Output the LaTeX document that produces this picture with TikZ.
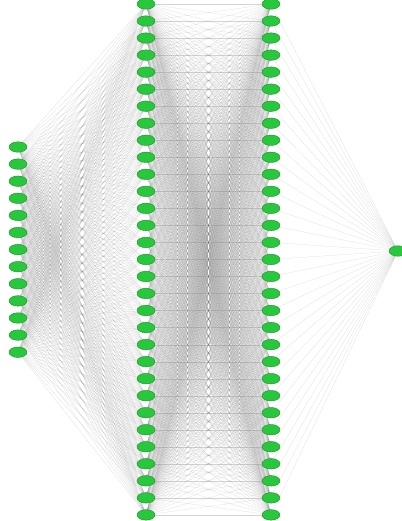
\documentclass[tikz,border=0pt]{standalone}
\usetikzlibrary{backgrounds,shapes.geometric}
\definecolor{nodegreen}{RGB}{40,200,60}
\definecolor{nodeedge}{RGB}{30,140,45}
\begin{document}
\begin{tikzpicture}[x=1pt,y=-1pt,
  neuron/.style={ellipse,draw=nodeedge,line width=0.4pt,fill=nodegreen,minimum width=18pt,minimum height=10.5pt,inner sep=0pt},
  conn/.style={draw=black!55,line width=0.15pt,opacity=0.3}]
\useasboundingbox (0,0) rectangle (401,521);
\foreach \i in {1,...,13} {
  \node[neuron] (a\i) at (18,{147+(\i-1)*17.1}) {};
}
\foreach \i in {1,...,31} {
  \node[neuron] (b\i) at (146,{4+(\i-1)*17.03}) {};
  \node[neuron] (c\i) at (271,{4+(\i-1)*17.03}) {};
}
\node[neuron] (d1) at (398,251) {};
\begin{scope}[on background layer]
\fill[white] (0,0) rectangle (401,521);
\foreach \i in {1,...,13} {
  \foreach \j in {1,...,31} {
    \draw[conn] (a\i.center) -- (b\j.center);
  }
}
\foreach \i in {1,...,31} {
  \foreach \j in {1,...,31} {
    \draw[conn] (b\i.center) -- (c\j.center);
  }
  \draw[conn] (c\i.center) -- (d1.center);
}
\end{scope}
\end{tikzpicture}
\end{document}
